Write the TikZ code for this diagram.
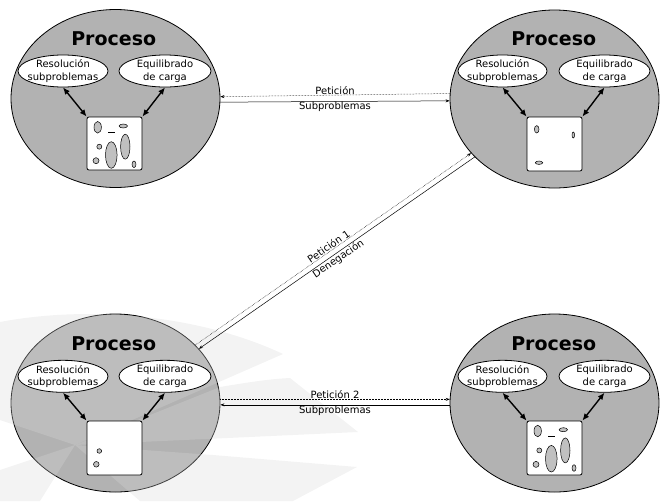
\documentclass[tikz,border=0pt]{standalone}
\usepackage{fontspec}
\setmainfont{DejaVu Sans}
\usetikzlibrary{shapes.geometric,arrows.meta}
\definecolor{procgray}{RGB}{178,178,178}
\definecolor{blobgray}{RGB}{192,192,192}
\definecolor{wmgray}{RGB}{215,215,215}
\tikzset{every picture/.style={line width=0.8pt}}

\begin{document}
\begin{tikzpicture}[x=1pt,y=1pt,yscale=-1,
  proc/.style={ellipse,draw,fill=procgray,inner sep=0pt,minimum width=209pt,minimum height=178pt},
  ptitle/.style={font=\fontsize{19}{22}\selectfont\bfseries,inner sep=0pt},
  task/.style={ellipse,draw,fill=white,inner xsep=-6pt,inner ysep=-1pt,minimum height=32pt,align=center,font=\fontsize{10}{12.5}\selectfont},
  mem/.style={draw,fill=white,rounded corners=2pt,minimum width=55pt,minimum height=53pt,inner sep=0pt},
  link/.style={<->,>={Latex[length=7pt,width=6pt]},line width=1.4pt},
  msg/.style={line width=0.5pt,>={Stealth[length=4pt,width=3pt]}},
  lbl/.style={font=\fontsize{10}{12}\selectfont,inner sep=0.6pt},
  blob/.style={draw,fill=blobgray,line width=0.5pt},
  wm/.style={fill=wmgray,opacity=0.3}]
\useasboundingbox (0,0) rectangle (669,501);

%Shape: Ellipse [procesos]
\node [proc] (procA) at (115.5,98.5) {};
\node [proc] (procB) at (554.5,99) {};
\node [proc] (procC) at (115.5,403) {};
\node [proc] (procD) at (554.5,403) {};

%Shape: fondo
\fill [wm] (0,322) .. controls (90,305) and (200,315) .. (283,354) -- (75,445) -- (0,420) -- cycle ;
\fill [wm] (75,445) -- (220,387) .. controls (250,382) and (270,379) .. (290,378) -- (358,432) -- cycle ;
\fill [wm] (75,445) -- (213,455) -- (357,467) -- (293,501) -- (140,501) -- cycle ;
\fill [wm] (75,445) -- (40,501) -- (0,501) -- (0,470) -- cycle ;

% Text Node
\node [ptitle] (titA) at (113.7,38.3) {Proceso};
\node [ptitle] (titB) at (553.7,38.3) {Proceso};
\node [ptitle] (titC) at (113.7,343.3) {Proceso};
\node [ptitle] (titD) at (553.7,343.3) {Proceso};

%Shape: Ellipse [tareas]
\node [task,minimum width=90pt] (resA) at (63,71) {Resolución\\subproblemas};
\node [task,minimum width=92pt] (eqA) at (165,71) {Equilibrado\\de carga};
\node [task,minimum width=89pt] (resB) at (502.5,71) {Resolución\\subproblemas};
\node [task,minimum width=91pt] (eqB) at (604.5,71) {Equilibrado\\de carga};
\node [task,minimum width=90pt] (resC) at (63,376.3) {Resolución\\subproblemas};
\node [task,minimum width=92pt] (eqC) at (165,376.3) {Equilibrado\\de carga};
\node [task,minimum width=89pt] (resD) at (502.5,376.3) {Resolución\\subproblemas};
\node [task,minimum width=91pt] (eqD) at (604.5,376.3) {Equilibrado\\de carga};

%Shape: Rectangle [memoria]
\node [mem] (memA) at (114.5,143.5) {};
\node [mem,minimum height=54pt] (memB) at (554.5,144) {};
\node [mem,minimum height=54pt] (memC) at (114.5,448) {};
\node [mem,minimum height=54pt] (memD) at (554.5,448) {};

%Straight Lines [tarea - memoria]
\draw [link] (resA.south) -- (memA.north west);
\draw [link] (eqA.south) -- (memA.north east);
\draw [link] (resB.south) -- (memB.north west);
\draw [link] (eqB.south) -- (memB.north east);
\draw [link] (resC.south) -- (memC.north west);
\draw [link] (eqC.south) -- (memC.north east);
\draw [link] (resD.south) -- (memD.north west);
\draw [link] (eqD.south) -- (memD.north east);

%Shape: Ellipse [subproblemas en memoria]
\begin{scope}[shift={(87,117)}]
\draw [blob] (10.7,10.3) ellipse [x radius=3.7, y radius=5.8];
\draw [blob] (36.3,9) ellipse [x radius=4.2, y radius=2];
\fill (21.4,15) rectangle (28,16.4);
\draw [blob] (38.3,29.7) ellipse [x radius=4.7, y radius=12.5];
\draw [blob] (12.3,29.7) circle [radius=2.5];
\draw [blob] (24.3,38) ellipse [x radius=5.8, y radius=13.3];
\draw [blob] (9,43.7) circle [radius=3];
\draw [blob] (47,47.3) ellipse [x radius=2, y radius=3.3];
\end{scope}
\begin{scope}[shift={(527,420.7)}]
\draw [blob] (10.7,10.3) ellipse [x radius=3.7, y radius=5.8];
\draw [blob] (36.3,9) ellipse [x radius=4.2, y radius=2];
\fill (21.4,15) rectangle (28,16.4);
\draw [blob] (38.3,29.7) ellipse [x radius=4.7, y radius=12.5];
\draw [blob] (12.3,29.7) circle [radius=2.5];
\draw [blob] (24.3,38) ellipse [x radius=5.8, y radius=13.3];
\draw [blob] (9,43.7) circle [radius=3];
\draw [blob] (47,47.3) ellipse [x radius=2, y radius=3.3];
\end{scope}
\begin{scope}[shift={(527,117)}]
\draw [blob] (9.7,12.3) ellipse [x radius=2.3, y radius=3.7];
\draw [blob] (46.3,18) ellipse [x radius=1.3, y radius=3];
\draw [blob] (12,45.7) ellipse [x radius=3.7, y radius=1.7];
\end{scope}
\begin{scope}[shift={(87,420.7)}]
\draw [blob] (12.3,30.3) circle [radius=2.3];
\draw [blob] (9.3,43.6) circle [radius=2.8];
\end{scope}

%Straight Lines [mensajes]
\draw [msg,->,densely dotted] (procB.177.8) -- (procA.1.9) node [midway,above,lbl] {Petición};
\draw [msg,->] (procA.-2.1) -- (procB.181.8) node [midway,below,lbl] {Subproblemas};
\draw [msg,->,densely dotted] (procC.36.6) -- (procB.213.5) node [pos=0.493,rotate=34.5,anchor=south,lbl] {Petición 1};
\draw [msg,->] (procB.216.6) -- (procC.33.4) node [pos=0.506,rotate=34.5,anchor=north,lbl] {Denegación};
\draw [msg,->,densely dotted] (procC.2) -- (procD.178) node [midway,above,lbl] {Petición 2};
\draw [msg,<-] (procC.-1.6) -- (procD.181.6) node [midway,below,lbl] {Subproblemas};

\end{tikzpicture}
\end{document}
